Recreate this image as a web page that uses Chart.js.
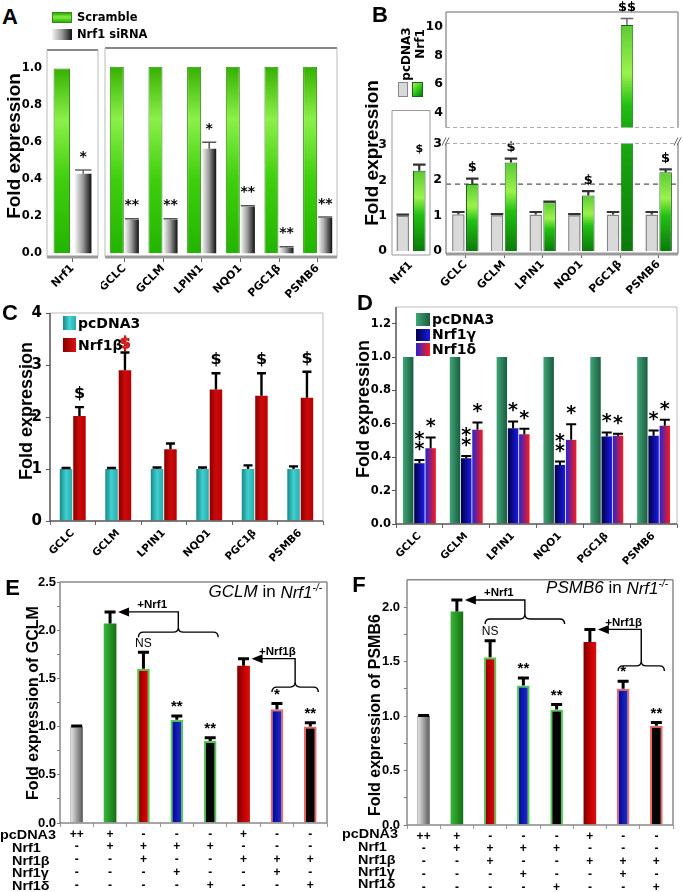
<!DOCTYPE html>
<html>
<head>
<meta charset="utf-8">
<script src="https://cdn.jsdelivr.net/npm/chart.js@4.4.1/dist/chart.umd.min.js"></script>
<style>
body { margin: 0; background: #fff; }
#fig { position: relative; width: 683px; height: 892px; overflow: hidden; background: #fff; font-family: "Liberation Sans", Arial, sans-serif; color: #000; }
#fig canvas { position: absolute; }
.t { position: absolute; white-space: nowrap; line-height: 1; }
.sw { position: absolute; box-sizing: border-box; }
</style>
</head>
<body>
<div id="fig"></div>
<script>
// ---------- data ----------
// A: siRNA knockdown
var aLeftLabels = ['Nrf1'];
var aLeftScramble = [1.0];
var aLeftSirna = [0.43];
var aLeftSirnaErr = [0.45];
var aLabels = ['GCLC', 'GCLM', 'LPIN1', 'NQO1', 'PGC1β', 'PSMB6'];
var aScramble = [1.0, 1.0, 1.0, 1.0, 1.0, 1.0];
var aSirna = [0.18, 0.18, 0.56, 0.25, 0.03, 0.19];
var aSirnaErr = [0.185, 0.185, 0.595, 0.255, 0.035, 0.195];
var aSig = ['**', '**', '*', '**', '**', '**'];
var aTicks = [0.0, 0.2, 0.4, 0.6, 0.8, 1.0];

// B: Nrf1 over-expression
var bInsetLabels = ['Nrf1'];
var bInsetPc = [1.0];
var bInsetPcErr = [1.03];
var bInsetNrf1 = [2.27];
var bInsetNrf1Err = [2.44];
var bLabels = ['GCLC', 'GCLM', 'LPIN1', 'NQO1', 'PGC1β', 'PSMB6'];
var bPc = [1.03, 1.0, 1.02, 1.0, 1.02, 1.02];
var bPcErr = [1.09, 1.03, 1.09, 1.03, 1.09, 1.09];
var bNrf1 = [1.87, 2.47, 1.36, 1.55, 10.1, 2.2];
var bNrf1Err = [2.02, 2.58, 1.38, 1.67, 10.55, 2.28];
var bSig = ['$', '$', '', '$', '$$', '$'];
var bRef = 1.87;
var bInsetTicks = [0, 1, 2, 3];
var bLowTicks = [0, 1, 2, 3];
var bHighTicks = [4, 6, 8, 10];

// C: Nrf1beta
var cLabels = ['GCLC', 'GCLM', 'LPIN1', 'NQO1', 'PGC1β', 'PSMB6'];
var cPc = [1.0, 1.0, 1.0, 1.0, 1.0, 1.0];
var cPcErr = [1.02, 1.02, 1.03, 1.03, 1.07, 1.05];
var cNrf1b = [2.02, 2.9, 1.38, 2.53, 2.41, 2.37];
var cNrf1bErr = [2.19, 3.24, 1.49, 2.84, 2.84, 2.87];
var cSig = ['$', '$', '', '$', '$', '$'];
var cTicks = [0, 1, 2, 3, 4];

// D: Nrf1gamma / Nrf1delta
var dLabels = ['GCLC', 'GCLM', 'LPIN1', 'NQO1', 'PGC1β', 'PSMB6'];
var dPc = [1.0, 1.0, 1.0, 1.0, 1.0, 1.0];
var dGamma = [0.364, 0.394, 0.574, 0.354, 0.524, 0.528];
var dGammaErr = [0.384, 0.408, 0.614, 0.374, 0.548, 0.56];
var dDelta = [0.454, 0.564, 0.538, 0.504, 0.528, 0.588];
var dDeltaErr = [0.518, 0.608, 0.57, 0.598, 0.54, 0.624];
var dGammaSig = ['*\n*', '*\n*', '*', '*\n*', '*', '*'];
var dDeltaSig = ['*', '*', '*', '*', '*', '*'];
var dTicks = [0.0, 0.2, 0.4, 0.6, 0.8, 1.0, 1.2];

// E / F: rescue in Nrf1-/- cells
var tableRows = ['pcDNA3', 'Nrf1', 'Nrf1β', 'Nrf1γ', 'Nrf1δ'];
var tableCols = [
  ['++', '-', '-', '-', '-'],
  ['+', '+', '-', '-', '-'],
  ['-', '+', '+', '-', '-'],
  ['-', '+', '-', '+', '-'],
  ['-', '+', '-', '-', '+'],
  ['+', '-', '+', '-', '-'],
  ['-', '-', '+', '+', '-'],
  ['-', '-', '+', '-', '+']
];
var eVals = [1.0, 2.07, 1.6, 1.07, 0.85, 1.63, 1.18, 1.0];
var eErr = [1.005, 2.19, 1.77, 1.11, 0.885, 1.705, 1.24, 1.04];
var fVals = [1.0, 1.96, 1.54, 1.28, 1.06, 1.68, 1.25, 0.91];
var fErr = [1.005, 2.065, 1.69, 1.35, 1.105, 1.795, 1.32, 0.94];
var rescueSig = ['', '', 'NS', '**', '**', '', '*', '**'];
var eBraceLevel = [1.98, 1.41];
var fBraceLevel = [1.89, 1.46];
var eTicks = [0, 0.25, 0.5, 0.75, 1.0, 1.25, 1.5, 1.75, 2.0, 2.25, 2.5];
var fTicks = [0, 0.25, 0.5, 0.75, 1.0, 1.25, 1.5, 1.75, 2.0];
var eMax = 2.5;
var fMax = 2.25;

// ---------- helpers ----------
var fig = document.getElementById('fig');
var DJ = 'DejaVu Sans', LS = 'Liberation Sans';

function fnt(fam, size, weight, lh) {
  return { family: fam, size: size, weight: weight || 'bold', lineHeight: lh || 1.2 };
}

function text(str, x, y, css, anchor, rot, extra) {
  var d = document.createElement('div');
  d.className = 't';
  d.innerHTML = str;
  var tx = anchor === 'left' ? '0' : anchor === 'right' ? '-100%' : '-50%';
  d.style.cssText = 'left:' + x + 'px;top:' + y + 'px;transform:translate(' + tx + ',-50%)' +
    (rot ? ' rotate(' + rot + 'deg)' : '') + (extra || '') + ';' + (css || '');
  fig.appendChild(d);
}

function swatch(x, y, w, h, bg, border) {
  var d = document.createElement('div');
  d.className = 'sw';
  d.style.cssText = 'left:' + x + 'px;top:' + y + 'px;width:' + w + 'px;height:' + h + 'px;background:' + bg + ';' +
    (border ? 'border:' + border + ';' : '');
  fig.appendChild(d);
}

function hGrad(stops) {
  return function (ctx) {
    var el = ctx.element;
    if (!el || !isFinite(el.x) || !isFinite(el.width)) return stops[0][1];
    var g = ctx.chart.ctx.createLinearGradient(el.x - el.width / 2, 0, el.x + el.width / 2, 0);
    stops.forEach(function (s) { g.addColorStop(s[0], s[1]); });
    return g;
  };
}

function vGrad(stops) {
  return function (ctx) {
    var el = ctx.element;
    if (!el || !isFinite(el.y) || !isFinite(el.base) || el.y === el.base) return stops[0][1];
    var g = ctx.chart.ctx.createLinearGradient(0, el.y, 0, el.base);
    stops.forEach(function (s) { g.addColorStop(s[0], s[1]); });
    return g;
  };
}

function yAxis(min, max, ticks, fmt, font, o) {
  o = o || {};
  return {
    min: min, max: max,
    afterBuildTicks: function (s) { s.ticks = ticks.map(function (v) { return { value: v }; }); },
    ticks: { callback: fmt, font: font, color: '#000', padding: o.pad != null ? o.pad : 4, display: o.labels !== false },
    grid: o.tick ? { drawOnChartArea: false, drawTicks: true, tickLength: o.tick, color: o.tickColor || '#555', lineWidth: 1 }
                 : { display: false, drawTicks: false },
    border: { display: false }
  };
}

function xAxis(font, o) {
  o = o || {};
  return {
    display: o.display !== false,
    offset: true,
    ticks: { font: font, color: '#000', maxRotation: o.rot || 0, minRotation: o.rot || 0, padding: o.pad || 0, autoSkip: false },
    grid: o.tick ? { offset: !!o.gridOffset, drawOnChartArea: false, drawTicks: true, tickLength: o.tick, color: o.tickColor || '#666' }
                 : { display: false, drawTicks: false },
    border: { display: false }
  };
}

function makeChart(rect, m, data, yOpt, xOpt, plugins) {
  var w = rect.r - rect.l + m.l + m.r, h = rect.b - rect.t + m.t + m.b;
  var cv = document.createElement('canvas');
  cv.width = w; cv.height = h;
  cv.style.left = (rect.l - m.l) + 'px';
  cv.style.top = (rect.t - m.t) + 'px';
  cv.style.width = w + 'px';
  cv.style.height = h + 'px';
  fig.appendChild(cv);
  yOpt.afterFit = function (s) { s.width = m.l; };
  var pad = { top: m.t, right: m.r, left: 0, bottom: 0 };
  if (xOpt.display === false) pad.bottom = m.b;
  else xOpt.afterFit = function (s) { s.height = m.b; };
  var ch = new Chart(cv, {
    type: 'bar',
    data: data,
    options: {
      responsive: false, animation: false, events: [],
      layout: { padding: pad },
      plugins: { legend: { display: false }, tooltip: { enabled: false } },
      scales: { x: xOpt, y: yOpt }
    },
    plugins: plugins || []
  });
  ch.update('none');
  return ch;
}

function framePlugin(sides) {
  return {
    id: 'frame',
    afterDraw: function (chart) {
      var a = chart.chartArea, c = chart.ctx;
      c.save();
      [['top', a.left, a.top, a.right, a.top], ['right', a.right, a.top, a.right, a.bottom],
       ['bottom', a.left, a.bottom, a.right, a.bottom], ['left', a.left, a.top, a.left, a.bottom]].forEach(function (s) {
        var st = sides[s[0]];
        if (!st) return;
        c.strokeStyle = st[0]; c.lineWidth = st[1]; c.setLineDash(st[2] || []);
        c.beginPath(); c.moveTo(s[1], s[2]); c.lineTo(s[3], s[4]); c.stroke();
      });
      c.restore();
    }
  };
}

function errPlugin(tops, st) {
  return {
    id: 'errbars',
    afterDatasetsDraw: function (chart) {
      var c = chart.ctx, a = chart.chartArea, y = chart.scales.y;
      c.save();
      c.beginPath(); c.rect(a.left, a.top - 2, a.right - a.left, a.bottom - a.top + 2); c.clip();
      c.strokeStyle = st.color; c.lineWidth = st.width; c.lineCap = 'butt';
      tops.forEach(function (t, di) {
        if (!t) return;
        chart.getDatasetMeta(di).data.forEach(function (el, i) {
          var yt = y.getPixelForValue(t[i]);
          var hw = st.cap != null ? st.cap : el.width / 2;
          c.beginPath();
          c.moveTo(el.x, el.y); c.lineTo(el.x, yt);
          c.moveTo(el.x - hw, yt); c.lineTo(el.x + hw, yt);
          c.stroke();
        });
      });
      c.restore();
    }
  };
}

// list: {ds, idx, text, at, gap, font, color, lh, stroke}
function marksPlugin(list) {
  return {
    id: 'marks',
    afterDatasetsDraw: function (chart) {
      var c = chart.ctx, y = chart.scales.y;
      c.save(); c.textAlign = 'center'; c.textBaseline = 'middle';
      list.forEach(function (m) {
        if (!m.text || m.at > y.max || m.at < y.min) return;
        var el = chart.getDatasetMeta(m.ds).data[m.idx];
        var yy = y.getPixelForValue(m.at) - m.gap;
        c.font = m.font; c.fillStyle = m.color || '#000';
        var lines = m.text.split('\n');
        lines.forEach(function (line, k) {
          var ly = yy - (lines.length - 1 - k) * (m.lh || 10);
          if (m.stroke) { c.strokeStyle = m.stroke; c.lineWidth = 1; c.strokeText(line, el.x, ly); }
          c.fillText(line, el.x, ly);
        });
      });
      c.restore();
    }
  };
}

function sigList(sig, tops, ds, gap, font, extra) {
  return sig.map(function (s, i) {
    var o = { ds: ds, idx: i, text: s, at: tops[i], gap: gap, font: font };
    if (extra) Object.assign(o, extra(s, i));
    return o;
  });
}

function brace(c, x1, x2, y, h) {
  var xm = (x1 + x2) / 2;
  c.beginPath();
  c.moveTo(x1, y + h);
  c.quadraticCurveTo(x1, y, x1 + h, y);
  c.lineTo(xm - h, y);
  c.quadraticCurveTo(xm, y, xm, y - h);
  c.quadraticCurveTo(xm, y, xm + h, y);
  c.lineTo(x2 - h, y);
  c.quadraticCurveTo(x2, y, x2, y + h);
  c.stroke();
}

// specs: {from:[i,j], to:k, at:value, level:value, label}
function bracketPlugin(specs) {
  return {
    id: 'brackets',
    afterDatasetsDraw: function (chart) {
      var c = chart.ctx, y = chart.scales.y, els = chart.getDatasetMeta(0).data;
      c.save(); c.strokeStyle = '#000'; c.fillStyle = '#000'; c.lineWidth = 1.4;
      specs.forEach(function (s) {
        var xa = els[s.from[0]].x - 5, xb = els[s.from[1]].x + 8, xm = (xa + xb) / 2;
        var yb = y.getPixelForValue(s.level), ya = y.getPixelForValue(s.at);
        var tip = els[s.to].x + 8;
        brace(c, xa, xb, yb, 5);
        c.beginPath(); c.moveTo(xm, yb - 5); c.lineTo(xm, ya); c.lineTo(tip + 9, ya); c.stroke();
        c.beginPath(); c.moveTo(tip, ya); c.lineTo(tip + 11, ya - 4.5); c.lineTo(tip + 11, ya + 4.5); c.closePath(); c.fill();
        c.font = 'bold 11.5px "Liberation Sans"'; c.textAlign = 'center'; c.textBaseline = 'middle';
        c.fillText(s.label, (tip + xm) / 2 + 4, ya - 7);
      });
      c.restore();
    }
  };
}

function fmt1(v) { return v.toFixed(1); }
function fmtHalf(v) { return Math.abs(v * 2 - Math.round(v * 2)) < 1e-6 ? v.toFixed(1) : ''; }
function fmtInt(v) { return String(v); }

// ---------- fills ----------
var greenA = vGrad([[0, '#36b000'], [0.28, '#8cf04a'], [0.6, '#40cf0e'], [1, '#22b400']]);
var grayA = hGrad([[0, '#f4f4f4'], [0.45, '#a0a0a0'], [1, '#111']]);
var greenB = vGrad([[0, '#5ccb34'], [0.33, '#9cf24c'], [0.55, '#22c012'], [1, '#0b7a0b']]);
var tealC = hGrad([[0, '#178888'], [0.5, '#40cfcf'], [1, '#2aabab']]);
var redC = hGrad([[0, '#880000'], [0.5, '#cc0a0a'], [1, '#b80000']]);
var greenD = hGrad([[0, '#40a678'], [1, '#1a5c3f']]);
var gammaD = hGrad([[0, '#000045'], [1, '#1a1ae8']]);
var deltaD = hGrad([[0, '#2424d0'], [1, '#ff1a1a']]);
var rescueFills = [
  hGrad([[0, '#ececec'], [1, '#555']]),
  hGrad([[0, '#3ab83a'], [1, '#127012']]),
  hGrad([[0, '#7a0000'], [0.6, '#cc0000'], [1, '#d81010']]),
  hGrad([[0, '#000090'], [1, '#2233cc']]),
  '#050505',
  hGrad([[0, '#7a0000'], [0.6, '#cc0000'], [1, '#d81010']]),
  hGrad([[0, '#000090'], [1, '#2233cc']]),
  '#050505'
];
var rescueBorders = ['#777', '#127012', '#4ccd4c', '#4ccd4c', '#4ccd4c', '#990000', '#f06464', '#f06464'];
var rescueBorderW = [1, 0, 2, 2, 2, 0, 2, 2];
function rescueFill(ctx) {
  var f = rescueFills[ctx.dataIndex];
  return typeof f === 'function' ? f(ctx) : f;
}

// ---------- panel A ----------
var frameA = { top: ['#888', 2], left: ['#bbb', 1], right: ['#bbb', 1], bottom: ['#9a9a9a', 3] };
var starFontA = 'bold 14px "DejaVu Sans"';
makeChart({ l: 47, t: 48, r: 98, b: 257 }, { l: 47, t: 10, r: 4, b: 42 }, {
  labels: aLeftLabels,
  datasets: [
    { data: aLeftScramble, backgroundColor: greenA, borderColor: '#2f8a12', borderWidth: 1, categoryPercentage: 0.84, barPercentage: 0.77 },
    { data: aLeftSirna, backgroundColor: grayA, borderWidth: 0, categoryPercentage: 0.84, barPercentage: 0.77 }
  ]
}, yAxis(-0.02, 1.1, aTicks, fmt1, fnt(DJ, 11.5), { pad: 5 }),
   xAxis(fnt(DJ, 11), { rot: 45, tick: 5, gridOffset: false, pad: 0 }),
   [framePlugin(frameA), errPlugin([null, aLeftSirnaErr], { color: '#666', width: 1.5 }),
    marksPlugin(sigList(['*'], aLeftSirnaErr, 1, 13, starFontA))]);

makeChart({ l: 105, t: 48, r: 337, b: 257 }, { l: 4, t: 10, r: 6, b: 42 }, {
  labels: aLabels,
  datasets: [
    { data: aScramble, backgroundColor: greenA, borderColor: '#2f8a12', borderWidth: 1, categoryPercentage: 0.78, barPercentage: 0.93 },
    { data: aSirna, backgroundColor: grayA, borderWidth: 0, categoryPercentage: 0.78, barPercentage: 0.93 }
  ]
}, yAxis(-0.02, 1.1, aTicks, fmt1, fnt(DJ, 11), { labels: false }),
   xAxis(fnt(DJ, 11), { rot: 45, tick: 5, gridOffset: false, pad: 0 }),
   [framePlugin(frameA), errPlugin([null, aSirnaErr], { color: '#555', width: 1.5 }),
    marksPlugin(sigList(aSig, aSirnaErr, 1, 13, starFontA))]);

// ---------- panel B ----------
function bData() {
  return {
    labels: bLabels,
    datasets: [
      { data: bPc, backgroundColor: '#d9d9d9', borderColor: '#858585', borderWidth: 1.5, categoryPercentage: 0.72, barPercentage: 0.9 },
      { data: bNrf1, backgroundColor: greenB, borderColor: '#1f5f1f', borderWidth: 1, categoryPercentage: 0.72, barPercentage: 0.9 }
    ]
  };
}
var bErrStyle = { color: '#333', width: 2.2 };
var bMarkFont = 'bold 13px "DejaVu Sans"';

makeChart({ l: 392, t: 108, r: 430, b: 255 }, { l: 20, t: 10, r: 4, b: 42 }, {
  labels: bInsetLabels,
  datasets: [
    { data: bInsetPc, backgroundColor: '#d9d9d9', borderColor: '#858585', borderWidth: 1.5, categoryPercentage: 0.87, barPercentage: 0.76 },
    { data: bInsetNrf1, backgroundColor: greenB, borderColor: '#1f5f1f', borderWidth: 1, categoryPercentage: 0.87, barPercentage: 0.76 }
  ]
}, yAxis(-0.11, 3.97, bInsetTicks, fmtInt, fnt(DJ, 12.5), { pad: 5 }),
   xAxis(fnt(DJ, 11), { rot: 45, pad: 4 }),
   [framePlugin({ top: ['#999', 1], right: ['#999', 1], bottom: ['#999', 1], left: ['#999', 1] }),
    errPlugin([bInsetPcErr, bInsetNrf1Err], bErrStyle),
    marksPlugin(sigList(['$'], bInsetNrf1Err, 1, 16, 'bold 11px "DejaVu Sans"'))]);

makeChart({ l: 446, t: 12, r: 678, b: 136 }, { l: 24, t: 12, r: 5, b: 2 }, bData(),
  yAxis(3, 11, bHighTicks, fmtInt, fnt(DJ, 12.5), { pad: 3 }),
  xAxis(fnt(DJ, 11), { display: false }),
  [framePlugin({ top: ['#999', 1.5], right: ['#999', 1.5], left: ['#999', 1.5], bottom: ['#aaa', 1, [4, 3]] }),
   errPlugin([bPcErr, bNrf1Err], { color: '#666', width: 1.5 }),
   marksPlugin(sigList(bSig, bNrf1Err, 1, 11, bMarkFont))]);

var bBreak = {
  id: 'bbreak',
  beforeDatasetsDraw: function (chart) {
    var c = chart.ctx, a = chart.chartArea, yy = chart.scales.y.getPixelForValue(bRef);
    c.save(); c.strokeStyle = '#555'; c.lineWidth = 1.3; c.setLineDash([5, 4]);
    c.beginPath(); c.moveTo(a.left, yy); c.lineTo(a.right, yy); c.stroke();
    c.restore();
  },
  afterDraw: function (chart) {
    var c = chart.ctx, a = chart.chartArea;
    c.save(); c.strokeStyle = '#666'; c.lineWidth = 1;
    [a.left, a.right].forEach(function (x) {
      c.beginPath();
      c.moveTo(x - 4, a.top + 2); c.lineTo(x, a.top - 6);
      c.moveTo(x - 1, a.top + 2); c.lineTo(x + 3, a.top - 6);
      c.stroke();
    });
    c.restore();
  }
};
makeChart({ l: 446, t: 140, r: 678, b: 254 }, { l: 24, t: 8, r: 5, b: 42 }, bData(),
  yAxis(-0.08, 3.0, bLowTicks, fmtInt, fnt(DJ, 12.5), { pad: 4 }),
  xAxis(fnt(DJ, 11), { rot: 45, tick: 4, gridOffset: false, pad: 0 }),
  [framePlugin({ top: ['#aaa', 1, [4, 3]], right: ['#999', 1.5], left: ['#999', 1.5], bottom: ['#9a9a9a', 3] }),
   bBreak, errPlugin([bPcErr, bNrf1Err], bErrStyle),
   marksPlugin(sigList(bSig, bNrf1Err, 1, 11, bMarkFont))]);

// ---------- panel C ----------
makeChart({ l: 50, t: 310, r: 323, b: 521 }, { l: 50, t: 10, r: 8, b: 48 }, {
  labels: cLabels,
  datasets: [
    { data: cPc, backgroundColor: tealC, borderWidth: 0, categoryPercentage: 0.59, barPercentage: 0.93 },
    { data: cNrf1b, backgroundColor: redC, borderWidth: 0, categoryPercentage: 0.59, barPercentage: 0.93 }
  ]
}, yAxis(0, 4, cTicks, fmtInt, fnt(DJ, 15), { pad: 4, tick: 4 }),
   xAxis(fnt(DJ, 10.5), { rot: 45, tick: 4, gridOffset: true, pad: 2 }),
   [framePlugin({ left: ['#555', 1.5], bottom: ['#555', 1.5], top: ['#bbb', 1], right: ['#bbb', 1] }),
    errPlugin([cPcErr, cNrf1bErr], { color: '#000', width: 2.4, cap: 4.5 }),
    marksPlugin(sigList(cSig, cNrf1bErr, 1, 13, 'bold 16px "DejaVu Sans"', function (s, i) {
      return i === 1 ? { color: '#e02020', stroke: '#800000', gap: 9 } : {};
    }))]);

// ---------- panel D ----------
var dStar = 'bold 19px "DejaVu Sans"';
makeChart({ l: 396, t: 307, r: 677, b: 524 }, { l: 40, t: 10, r: 5, b: 48 }, {
  labels: dLabels,
  datasets: [
    { data: dPc, backgroundColor: greenD, borderWidth: 0, categoryPercentage: 0.72, barPercentage: 0.93 },
    { data: dGamma, backgroundColor: gammaD, borderWidth: 0, categoryPercentage: 0.72, barPercentage: 0.93 },
    { data: dDelta, backgroundColor: deltaD, borderWidth: 0, categoryPercentage: 0.72, barPercentage: 0.93 }
  ]
}, yAxis(0, 1.3, dTicks, fmt1, fnt(DJ, 11.5), { pad: 1, tick: 4 }),
   xAxis(fnt(DJ, 10.5), { rot: 45, tick: 4, gridOffset: true, pad: 2 }),
   [framePlugin({ left: ['#555', 1.5], bottom: ['#555', 1.5], top: ['#bbb', 1], right: ['#bbb', 1] }),
    errPlugin([null, dGammaErr, dDeltaErr], { color: '#000', width: 2, cap: 5 }),
    marksPlugin(sigList(dGammaSig, dGammaErr, 1, 10, dStar).concat(sigList(dDeltaSig, dDeltaErr, 2, 10, dStar)))]);

// ---------- panels E, F ----------
function rescueChart(rect, m, vals, errs, ticks, max, levels, tickPad) {
  var starFont = 'bold 15px "Liberation Sans"';
  makeChart(rect, m, {
    labels: tableCols,
    datasets: [{ data: vals, backgroundColor: rescueFill, borderColor: rescueBorders, borderWidth: rescueBorderW,
                 borderSkipped: 'bottom', categoryPercentage: 1, barPercentage: 0.38 }]
  }, yAxis(0, max, ticks, fmtHalf, fnt(LS, 13), { pad: tickPad, tick: 3, tickColor: '#777' }),
     xAxis(fnt(LS, 12, 'bold', 1.06), { tick: 4, gridOffset: true, pad: 1, tickColor: '#999' }),
     [framePlugin({ left: ['#888', 1.5], bottom: ['#888', 1.5], top: ['#888', 1.5], right: ['#888', 1.5] }),
      errPlugin([errs], { color: '#000', width: 3, cap: 5.5 }),
      marksPlugin(sigList(rescueSig, errs, 0, 9, starFont, function (s) {
        return s === 'NS' ? { font: '12px "Liberation Sans"', gap: 9 } : {};
      })),
      bracketPlugin([
        { from: [2, 4], to: 1, at: errs[1], level: levels[0], label: '+Nrf1' },
        { from: [6, 7], to: 5, at: errs[5], level: levels[1], label: '+Nrf1β' }
      ])]);
}
rescueChart({ l: 60, t: 582, r: 327, b: 823 }, { l: 60, t: 10, r: 8, b: 69 }, eVals, eErr, eTicks, eMax, eBraceLevel, 1);
rescueChart({ l: 407, t: 578, r: 673, b: 825 }, { l: 52, t: 10, r: 8, b: 67 }, fVals, fErr, fTicks, fMax, fBraceLevel, 4);

// ---------- texts ----------
var letter = 'font:bold 22px "Liberation Sans";';
text('A', 10, 16.5, letter);
text('B', 380, 15, letter);
text('C', 10, 313, letter);
text('D', 365, 303, letter);
text('E', 12.5, 587.5, letter);
text('F', 359, 585, letter);

text('Fold expression', 14, 146, 'font:bold 19px "Liberation Sans";', 'center', -90);
text('Fold expression', 372, 153, 'font:bold 19px "Liberation Sans";', 'center', -90);
text('Fold expression', 26, 411, 'font:bold 18px "Liberation Sans";', 'center', -90);
text('Fold expression', 363, 409, 'font:bold 18px "Liberation Sans";', 'center', -90);
text('Fold expression of GCLM', 33, 703, 'font:bold 16px "Liberation Sans";', 'center', -90);
text('Fold expression of PSMB6', 375, 715, 'font:bold 16px "Liberation Sans";', 'center', -90);

// legends
var legFont = 'font:bold 11.5px "DejaVu Sans";';
swatch(52, 12, 20, 11, 'linear-gradient(#2aa800,#88ee44 45%,#22b800)', '1px solid #3a8a1a');
swatch(52, 29, 20, 11, 'linear-gradient(to right,#f4f4f4,#999 50%,#111)');
text('Scramble', 77, 17, legFont, 'left');
text('Nrf1 siRNA', 77, 34, legFont, 'left');

swatch(398, 82, 10, 15, '#d9d9d9', '1px solid #888');
swatch(412, 82, 11, 15, 'linear-gradient(135deg,#9cf24c,#22c012 60%,#0b7a0b)', '1px solid #1f5f1f');
text('pcDNA3', 405.5, 54, 'font:bold 12px "DejaVu Sans";', 'center', -90);
text('Nrf1', 419.5, 43.5, 'font:bold 12px "DejaVu Sans";', 'center', -90);

var legFont2 = 'font:bold 14px "DejaVu Sans";';
swatch(63, 316, 13, 14, 'linear-gradient(to right,#178888,#44d4d4,#2aabab)');
swatch(63, 338, 13, 14, 'linear-gradient(to right,#880000,#dd1111)');
text('pcDNA3', 78, 323, legFont2, 'left');
text('Nrf1β', 78, 345, legFont2, 'left');

swatch(416, 313, 14, 13, 'linear-gradient(to right,#40a678,#1a5c3f)');
swatch(416, 329, 14, 12, 'linear-gradient(to right,#000045,#1a1ae8)');
swatch(416, 343, 14, 13, 'linear-gradient(to right,#2424d0,#ff1a1a)');
text('pcDNA3', 432, 319, legFont2, 'left');
text('Nrf1γ', 432, 334, legFont2, 'left');
text('Nrf1δ', 432, 349, legFont2, 'left');

// panel titles
var ttl = 'font:17px "Liberation Sans";';
text('<i>GCLM</i> in <i>Nrf1<sup style="font-size:10px">-/-</sup></i>', 322, 592, ttl, 'right');
text('<i>PSMB6</i> in <i>Nrf1<sup style="font-size:10px">-/-</sup></i>', 668, 588, ttl, 'right');

// table row names
var rowFont = 'font:bold 12px "Liberation Sans";transform-origin:left center;';
var eRowY = [835, 848, 861, 873, 886];
var fRowY = [834, 847, 860, 872, 884];
tableRows.forEach(function (r, i) {
  text(r, i === 0 ? 0 : 12, eRowY[i], rowFont, 'left', 0, ' scaleX(1.2)');
  text(r, i === 0 ? 342 : 358, fRowY[i], rowFont, 'left', 0, ' scaleX(1.2)');
});
</script>
</body>
</html>
